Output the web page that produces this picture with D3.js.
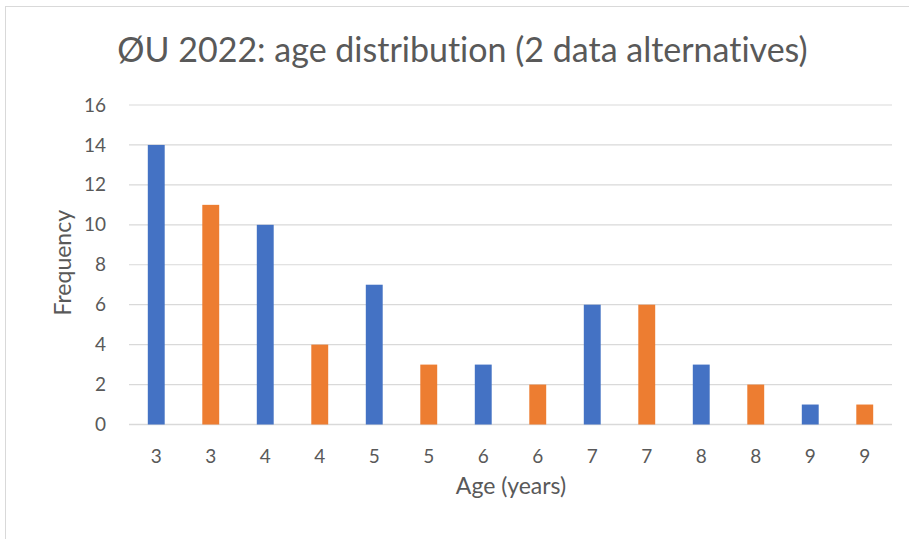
<!DOCTYPE html>
<html lang="en">
<head>
  <meta charset="UTF-8" />
  <title>ØU 2022: age distribution</title>
  <script src="https://d3js.org/d3.v7.min.js"></script>
  <style>
    body { margin: 0; background: #fff; }
    svg { display: block; font-family: Lato, "Open Sans", sans-serif; font-variant-ligatures: none; }
  </style>
</head>
<body>
  <svg width="909" height="539"></svg>
  <script>
    // data
    const ages = ["3", "3", "4", "4", "5", "5", "6", "6", "7", "7", "8", "8", "9", "9"];
    const alternative = ["A", "B", "A", "B", "A", "B", "A", "B", "A", "B", "A", "B", "A", "B"];
    const frequency = [14, 11, 10, 4, 7, 3, 3, 2, 6, 6, 3, 2, 1, 1];
    const yTicks = [0, 2, 4, 6, 8, 10, 12, 14, 16];

    const colours = { A: "#4472C4", B: "#ED7D31" };
    const textColour = "#595959";

    const svg = d3.select("svg");
    const margin = { top: 105, right: 17, bottom: 114.5, left: 129 };
    const width = 909 - margin.left - margin.right;
    const height = 539 - margin.top - margin.bottom;

    // chart area border
    svg.append("rect")
      .attr("x", 5.5).attr("y", 6.5)
      .attr("width", 920).attr("height", 560)
      .attr("fill", "none").attr("stroke", "#d9d9d9");

    const chart = svg.append("g")
      .attr("transform", `translate(${margin.left},${margin.top})`);

    const rows = ages.map((a, i) => ({ key: i, age: a, alt: alternative[i], value: frequency[i] }));

    const x = d3.scaleBand().domain(rows.map(d => d.key)).range([0, width]).paddingInner(0.69).paddingOuter(0.345);
    const y = d3.scaleLinear().domain([0, 16]).range([height, 0]);

    // gridlines
    chart.append("g")
      .selectAll("line")
      .data(yTicks)
      .enter().append("line")
      .attr("x1", 0).attr("x2", width)
      .attr("y1", d => y(d)).attr("y2", d => y(d))
      .attr("stroke", "#d9d9d9")
      .attr("stroke-width", d => d === 0 ? 1.5 : 1.2);

    // y axis labels
    const yAxis = chart.append("g")
      .attr("transform", "translate(-23,0)")
      .call(d3.axisLeft(y).tickValues(yTicks).tickSize(0).tickPadding(0));
    yAxis.select(".domain").remove();
    yAxis.selectAll("text")
      .attr("font-size", 19).attr("fill", textColour)
      .attr("font-family", "Lato, 'Open Sans', sans-serif");

    // bars
    chart.selectAll("rect.bar")
      .data(rows)
      .enter().append("rect")
      .attr("class", "bar")
      .attr("x", d => x(d.key))
      .attr("y", d => y(d.value))
      .attr("width", x.bandwidth())
      .attr("height", d => height - y(d.value))
      .attr("fill", d => colours[d.alt]);

    // x axis labels
    const xAxis = chart.append("g")
      .attr("transform", `translate(0,${height})`)
      .call(d3.axisBottom(x).tickFormat(k => ages[k]).tickSize(0).tickPadding(0));
    xAxis.select(".domain").remove();
    xAxis.selectAll("text")
      .attr("y", 38.5).attr("dy", 0)
      .attr("font-size", 19).attr("fill", textColour)
      .attr("font-family", "Lato, 'Open Sans', sans-serif");

    // axis titles
    svg.append("text")
      .attr("x", margin.left + width / 2 + 0.5).attr("y", 494)
      .attr("text-anchor", "middle")
      .attr("font-size", 23).attr("fill", textColour)
      .text("Age (years)");

    svg.append("text")
      .attr("transform", `translate(71,${margin.top + height / 2 - 2}) rotate(-90)`)
      .attr("text-anchor", "middle")
      .attr("font-size", 23).attr("fill", textColour)
      .text("Frequency");

    // title
    svg.append("text")
      .attr("x", 462.5).attr("y", 62)
      .attr("text-anchor", "middle")
      .attr("font-size", 34).attr("fill", textColour)
      .text("ØU 2022: age distribution (2 data alternatives)");
  </script>
</body>
</html>
